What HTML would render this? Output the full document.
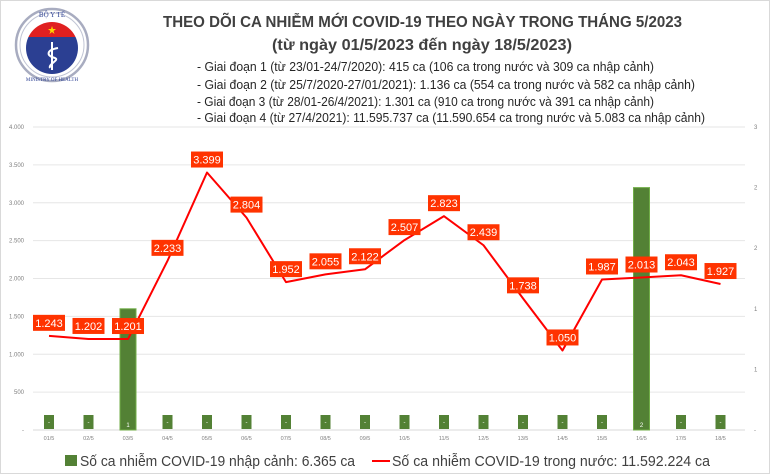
<!DOCTYPE html>
<html><head><meta charset="utf-8"><style>
html,body{margin:0;padding:0;background:#fff;}
svg{display:block;font-family:"Liberation Sans",sans-serif;}
</style></head><body>
<svg id="s" width="770" height="474" viewBox="0 0 770 474" xmlns="http://www.w3.org/2000/svg">
<defs><clipPath id="c"><circle cx="52" cy="48" r="26"/></clipPath></defs>
<rect x="0.5" y="0.5" width="769" height="473" fill="#fff" stroke="#d9d9d9"/>
<!-- logo -->
<g>
<circle cx="52" cy="45" r="36" fill="none" stroke="#a8acc0" stroke-width="2.5"/>
<circle cx="52" cy="45" r="32" fill="none" stroke="#c0c4d4" stroke-width="1"/>
<g clip-path="url(#c)">
<rect x="20" y="20" width="64" height="17" fill="#e02020"/>
<rect x="20" y="37" width="64" height="40" fill="#2b3f92"/>
</g>
<path d="M52,26 L53,29 L56,29 L53.5,31 L54.5,34 L52,32 L49.5,34 L50.5,31 L48,29 L51,29 Z" fill="#ffd400"/>
<line x1="52" y1="42" x2="52" y2="70" stroke="#fff" stroke-width="2"/>
<path d="M58,48 C46,50 46,56 55,58 C60,60 48,64 50,68" stroke="#fff" stroke-width="2" fill="none"/>
<text x="52" y="17" font-size="7" fill="#2b3f92" text-anchor="middle" font-family="Liberation Serif,serif">BỘ Y TẾ</text>
<text x="52" y="81" font-size="5" fill="#2b3f92" text-anchor="middle" font-family="Liberation Serif,serif">MINISTRY OF HEALTH</text>
</g>
<g fill="#404040" font-weight="bold">
<text x="163" y="27" font-size="16" textLength="519" lengthAdjust="spacingAndGlyphs">THEO DÕI CA NHIỄM MỚI COVID-19 THEO NGÀY TRONG THÁNG 5/2023</text>
<text x="272" y="50" font-size="16" textLength="300" lengthAdjust="spacingAndGlyphs">(từ ngày 01/5/2023 đến ngày 18/5/2023)</text>
</g>
<g fill="#262626" font-size="12.5">
<text x="197" y="71" textLength="457" lengthAdjust="spacingAndGlyphs">- Giai đoạn 1 (từ 23/01-24/7/2020): 415 ca (106 ca trong nước và 309 ca nhập cảnh)</text>
<text x="197" y="89" textLength="498" lengthAdjust="spacingAndGlyphs">- Giai đoạn 2 (từ 25/7/2020-27/01/2021): 1.136 ca (554 ca trong nước và 582 ca nhập cảnh)</text>
<text x="197" y="106" textLength="457" lengthAdjust="spacingAndGlyphs">- Giai đoạn 3 (từ 28/01-26/4/2021): 1.301 ca (910 ca trong nước và 391 ca nhập cảnh)</text>
<text x="197" y="122" textLength="508" lengthAdjust="spacingAndGlyphs">- Giai đoạn 4 (từ 27/4/2021): 11.595.737 ca (11.590.654 ca trong nước và 5.083 ca nhập cảnh)</text>
</g>
<g id="g"></g>
<rect x="65" y="455" width="12" height="11" fill="#538135"/>
<text x="80" y="466" font-size="15" fill="#404040" textLength="275" lengthAdjust="spacingAndGlyphs">Số ca nhiễm COVID-19 nhập cảnh: 6.365 ca</text>
<line x1="372" y1="461" x2="390" y2="461" stroke="#ff0000" stroke-width="2"/>
<text x="392" y="466" font-size="15" fill="#404040" textLength="318" lengthAdjust="spacingAndGlyphs">Số ca nhiễm COVID-19 trong nước: 11.592.224 ca</text>
</svg>
<script>
var g=document.getElementById('g'),h='';
var vals=[1243,1202,1201,2233,3399,2804,1952,2055,2122,2507,2823,2439,1738,1050,1987,2013,2043,1927];
var bars=[0,0,1,0,0,0,0,0,0,0,0,0,0,0,0,2,0,0];
function X(i){return 49+i*39.5;}
function Y(v){return 430-v*0.07575;}
for(var k=0;k<=8;k++){var y=430-k*37.875;
 if(k>0)h+='<line x1="33" x2="745" y1="'+y+'" y2="'+y+'" stroke="#e6e6e6" stroke-width="1"/>';
 var lab;
 if(k==0)lab='-'; else {var n=k*500;lab=n>=1000?Math.floor(n/1000)+'.'+String(n%1000).padStart(3,'0'):String(n);}
 h+='<text x="24" y="'+(y+2)+'" font-size="6" fill="#7f7f7f" text-anchor="end">'+lab+'</text>';}
var rl=['-','1','1','2','2','3'];
for(var k=0;k<=5;k++){var y=430-k*60.6;h+='<text x="754" y="'+(y+2)+'" font-size="6" fill="#7f7f7f">'+rl[k]+'</text>';}
h+='<line x1="33" x2="745" y1="430" y2="430" stroke="#d9d9d9"/>';
for(var i=0;i<18;i++){var x=X(i);
 var d=(i+1<10?'0':'')+(i+1)+'/5';
 h+='<text x="'+x+'" y="440" font-size="5.5" fill="#7f7f7f" text-anchor="middle">'+d+'</text>';
 if(bars[i]){var t=430-bars[i]*121.2;h+='<rect x="'+(x-8)+'" y="'+t+'" width="16" height="'+(430-t)+'" fill="#538135" stroke="#70ad47" stroke-width="1"/>';
  h+='<text x="'+x+'" y="427" font-size="6" fill="#fff" text-anchor="middle">'+bars[i]+'</text>';}
 else{h+='<rect x="'+(x-5)+'" y="415" width="10" height="14" fill="#538135"/><text x="'+x+'" y="424" font-size="6" fill="#fff" text-anchor="middle">-</text>';}
}
var p=vals.map(function(v,i){return X(i)+','+Y(v)}).join(' ');
h+='<polyline points="'+p+'" fill="none" stroke="#ff0000" stroke-width="2" stroke-linejoin="round"/>';
for(var i=0;i<18;i++){var v=vals[i],x=X(i),y=Y(v)-13;var s=Math.floor(v/1000)+'.'+String(v%1000).padStart(3,'0');
 h+='<rect x="'+(x-16)+'" y="'+(y-8)+'" width="32" height="16" fill="#ff3300"/><text x="'+x+'" y="'+(y+4)+'" font-size="11" fill="#fff" text-anchor="middle">'+s+'</text>';}
g.innerHTML=h;
</script>
</body></html>
